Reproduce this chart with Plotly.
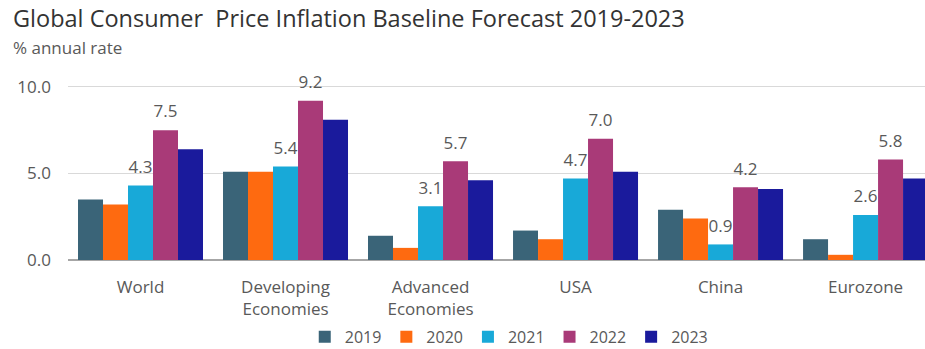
import plotly.graph_objects as go

# Regions and forecast years
regions = ["World", "Developing<br>Economies", "Advanced<br>Economies", "USA", "China", "Eurozone"]
years = ["2019", "2020", "2021", "2022", "2023"]

# Consumer price inflation, % annual rate
cpi_2019 = [3.5, 5.1, 1.4, 1.7, 2.9, 1.2]
cpi_2020 = [3.2, 5.1, 0.7, 1.2, 2.4, 0.3]
cpi_2021 = [4.3, 5.4, 3.1, 4.7, 0.9, 2.6]
cpi_2022 = [7.5, 9.2, 5.7, 7.0, 4.2, 5.8]
cpi_2023 = [6.4, 8.1, 4.6, 5.1, 4.1, 4.7]

series = [cpi_2019, cpi_2020, cpi_2021, cpi_2022, cpi_2023]
colors = ["#3a6478", "#fe6a10", "#18a9d8", "#a93a78", "#1a1a9c"]
labelled = {"2021", "2022"}

FONT = "Open Sans"
GREY = "#595959"
GAP = 0.138

fig = go.Figure()
for year, vals, col in zip(years, series, colors):
    fig.add_trace(go.Bar(
        name=year, x=regions, y=vals, offsetgroup=year,
        marker=dict(color=col, line=dict(width=0)),
    ))

# value labels, grouped the same way as the bars so they sit over their bar
for year, vals in zip(years, series):
    show = year in labelled
    fig.add_trace(go.Scatter(
        x=regions, y=vals, offsetgroup=year, showlegend=False, hoverinfo="skip",
        mode="markers+text",
        marker=dict(size=12, opacity=0),
        text=[f"{v:.1f}" for v in vals] if show else ["" for _ in vals],
        textposition="top center",
        textfont=dict(family=FONT, size=17, color=GREY),
        cliponaxis=False,
    ))

fig.update_layout(
    width=925, height=349,
    margin=dict(l=68, r=0, t=73, b=89),
    paper_bgcolor="white", plot_bgcolor="white",
    barmode="group", bargap=GAP, bargroupgap=0,
    scattermode="group", scattergap=GAP,
    font=dict(family=FONT, color=GREY),
    showlegend=True,
    legend=dict(orientation="h", xref="container", yref="container",
                x=0.55, xanchor="center", y=0.035, yanchor="middle",
                font=dict(family=FONT, size=16, color=GREY),
                itemwidth=30, tracegroupgap=0),
    xaxis=dict(range=[-0.5, 5.41], showgrid=False, showline=False, ticks="",
               ticklabelstandoff=15,
               tickfont=dict(family=FONT, size=17, color=GREY)),
    yaxis=dict(range=[0, 10.8], tickvals=[0, 5, 10], tickformat=".1f",
               showgrid=True, gridcolor="#d9d9d9", gridwidth=1,
               zeroline=True, zerolinecolor="#a6a6a6", zerolinewidth=1.5,
               showline=False, ticks="", ticklabelstandoff=16,
               tickfont=dict(family=FONT, size=17, color=GREY)),
    annotations=[
        dict(text="Global Consumer  Price Inflation Baseline Forecast 2019-2023",
             xref="paper", yref="paper", x=-0.0665, y=1.294, xanchor="left", yanchor="middle",
             showarrow=False, font=dict(family=FONT, size=23.5, color="#333333")),
        dict(text="% annual rate",
             xref="paper", yref="paper", x=-0.0665, y=1.134, xanchor="left", yanchor="middle",
             showarrow=False, font=dict(family=FONT, size=17, color=GREY)),
    ],
)

fig.write_html("out.html")
